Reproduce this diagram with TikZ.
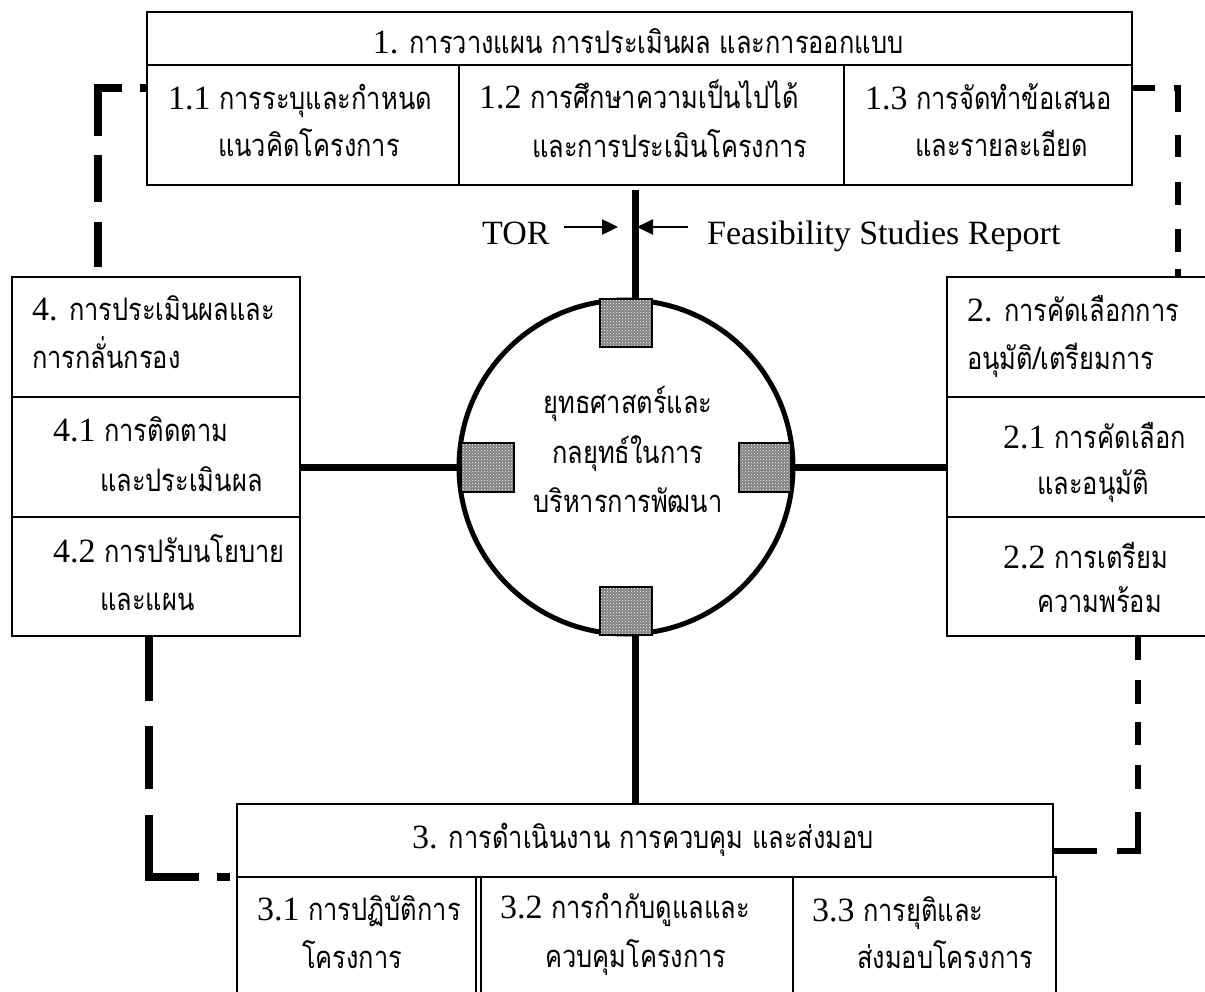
\documentclass[tikz,border=0pt]{standalone}
\usepackage{fontspec}
\setmainfont{Liberation Serif}
\newfontfamily\thaifont[Script=Thai,FakeStretch=0.82]{Loma}
\usetikzlibrary{patterns,arrows.meta}
\newcommand\tha[1]{{\thaifont\fontsize{31}{36}\selectfont #1}}
\tikzset{
  cell/.style={draw, line width=2pt, anchor=north west, inner sep=0pt},
  txt/.style={anchor=base west, inner sep=0pt, font=\fontsize{34}{40}\selectfont},
  ctxt/.style={anchor=base, inner sep=0pt, font=\fontsize{34}{40}\selectfont},
  conn/.style={line width=7pt},
  dashL/.style={line width=7.5pt},
  dashR/.style={line width=6pt},
  hatch/.style={draw, line width=1.5pt, inner sep=0pt, preaction={fill=black!50}, pattern=crosshatch dots, pattern color=white},
  arr/.style={line width=2.5pt, -{Triangle[length=16pt,width=15pt]}}
}
\begin{document}
\begin{tikzpicture}[x=1pt,y=-1pt]
\useasboundingbox (0,0) rectangle (1205,992);
\clip (0,0) rectangle (1205,992);
% ---- box 1
\node[cell, minimum width=985pt, minimum height=53pt] (t1h) at (146,11) {};
\node[cell, minimum width=312pt, minimum height=120pt] (t11) at (146,64) {};
\node[cell, minimum width=385pt, minimum height=120pt] (t12) at (458,64) {};
\node[cell, minimum width=288pt, minimum height=120pt] (t13) at (843,64) {};
\node[ctxt] (t1hx) at (638,54) {1. \tha{การวางแผน การประเมินผล และการออกแบบ}};
\node[txt] (t11a) at (168,110) {1.1 \tha{การระบุและกำหนด}};
\node[txt] (t11b) at (218,157) {\tha{แนวคิดโครงการ}};
\node[txt] (t12a) at (479,109) {1.2 \tha{การศึกษาความเป็นไปได้}};
\node[txt] (t12b) at (532,158) {\tha{และการประเมินโครงการ}};
\node[txt] (t13a) at (865,110) {1.3 \tha{การจัดทำข้อเสนอ}};
\node[txt] (t13b) at (915,157) {\tha{และรายละเอียด}};
% ---- box 4
\node[cell, minimum width=288pt, minimum height=120pt] (b4h) at (11,276) {};
\node[cell, minimum width=288pt, minimum height=120pt] (b41) at (11,396) {};
\node[cell, minimum width=288pt, minimum height=119pt] (b42) at (11,516) {};
\node[txt] (b4ha) at (32,320) {4. \tha{การประเมินผลและ}};
\node[txt] (b4hb) at (32,368) {\tha{การกลั่นกรอง}};
\node[txt] (b41a) at (53,441) {4.1 \tha{การติดตาม}};
\node[txt] (b41b) at (100,491) {\tha{และประเมินผล}};
\node[txt] (b42a) at (53,562) {4.2 \tha{การปรับนโยบาย}};
\node[txt] (b42b) at (100,610) {\tha{และแผน}};
% ---- box 2
\node[cell, minimum width=270pt, minimum height=120pt] (b2h) at (946,276) {};
\node[cell, minimum width=270pt, minimum height=120pt] (b21) at (946,396) {};
\node[cell, minimum width=270pt, minimum height=119pt] (b22) at (946,516) {};
\node[txt] (b2ha) at (967,322) {2. \tha{การคัดเลือกการ}};
\node[txt] (b2hb) at (967,369) {\tha{อนุมัติ/เตรียมการ}};
\node[txt] (b21a) at (1003,448) {2.1 \tha{การคัดเลือก}};
\node[txt] (b21b) at (1037,494) {\tha{และอนุมัติ}};
\node[txt] (b22a) at (1003,568) {2.2 \tha{การเตรียม}};
\node[txt] (b22b) at (1037,612) {\tha{ความพร้อม}};
% ---- box 3
\node[cell, minimum width=816pt, minimum height=73pt] (b3h) at (236,803) {};
\node[cell, minimum width=239pt, minimum height=130pt] (b31) at (236,876) {};
\node[cell, minimum width=312pt, minimum height=130pt] (b32) at (480,876) {};
\node[cell, minimum width=263pt, minimum height=130pt] (b33) at (792,876) {};
\node[ctxt] (b3hx) at (643,848) {3. \tha{การดำเนินงาน การควบคุม และส่งมอบ}};
\node[txt] (b31a) at (257,920) {3.1 \tha{การปฏิบัติการ}};
\node[txt] (b31b) at (302,968) {\tha{โครงการ}};
\node[txt] (b32a) at (500,918) {3.2 \tha{การกำกับดูแลและ}};
\node[txt] (b32b) at (545,967) {\tha{ควบคุมโครงการ}};
\node[txt] (b33a) at (812,921) {3.3 \tha{การยุติและ}};
\node[txt] (b33b) at (857,968) {\tha{ส่งมอบโครงการ}};
% ---- centre
\coordinate (ttop) at (635,190);
\node[circle, inner sep=0pt, minimum size=334pt] (c) at (626,467) {};
\node[inner sep=0pt, minimum width=52pt, minimum height=48pt] (sqT) at (626,323) {};
\node[inner sep=0pt, minimum width=53pt, minimum height=49pt] (sqL) at (487.5,467.5) {};
\node[inner sep=0pt, minimum width=52pt, minimum height=49pt] (sqR) at (765,467.5) {};
\node[inner sep=0pt, minimum width=52pt, minimum height=48pt] (sqB) at (626,611) {};
\draw[conn] (ttop) -- (ttop |- sqT.north);
\draw[conn] (ttop |- sqB.south) -- (ttop |- b3h.north);
\draw[conn] (b41.east |- sqL.west) -- (sqL.west);
\draw[conn] (sqR.east) -- (b21.west |- sqR.east);
\draw[line width=5pt] (c.center) circle[radius=167pt];
\node[hatch, minimum width=52pt, minimum height=48pt] (hT) at (sqT) {};
\node[hatch, minimum width=53pt, minimum height=49pt] (hL) at (sqL) {};
\node[hatch, minimum width=52pt, minimum height=49pt] (hR) at (sqR) {};
\node[hatch, minimum width=52pt, minimum height=48pt] (hB) at (sqB) {};
\node[ctxt] (c1) at (628,413) {\tha{ยุทธศาสตร์และ}};
\node[ctxt] (c2) at (628,463) {\tha{กลยุทธ์ในการ}};
\node[ctxt] (c3) at (628,512) {\tha{บริหารการพัฒนา}};
% ---- TOR arrows
\node[txt] (tor) at (482,245) {TOR};
\node[txt] (fsr) at (707,245) {Feasibility Studies Report};
\coordinate (aL1) at (564,227);
\coordinate (aL2) at (618,227);
\coordinate (aR1) at (688,227);
\coordinate (aR2) at (637,227);
\draw[arr] (aL1) -- (aL2);
\draw[arr] (aR1) -- (aR2);
% ---- dashed loop
\coordinate (luc) at (98,88);
\coordinate (ruc) at (1178,88);
\coordinate (rlc) at (1138,851);
\coordinate (llc) at (149,877);
\draw[dashL, dash pattern=on 45pt off 20pt on 47pt off 19pt on 72pt off 18pt on 6pt off 9pt, dash phase=227pt]
  (b4h.north -| luc) -- (luc) -- (luc -| t11.west);
\draw[dashR, dash pattern=on 22pt off 19pt on 28pt off 23pt on 22pt off 25pt on 23pt off 24pt on 23pt off 17pt on 9pt off 5pt]
  (ruc -| t13.east) -- (ruc) -- (ruc |- b2h.north);
\draw[dashR, dash pattern=on 23pt off 20pt on 24pt off 18pt on 23pt off 20pt on 24pt off 23pt on 60pt off 20pt on 46pt off 10pt]
  (rlc |- b22.south) -- (rlc) -- (rlc -| b3h.east);
\draw[dashL, dash pattern=on 64pt off 25pt on 63pt off 26pt on 112pt off 18pt on 13pt off 20pt]
  (llc |- b42.south) -- (llc) -- (llc -| b3h.west);
\end{tikzpicture}
\end{document}
